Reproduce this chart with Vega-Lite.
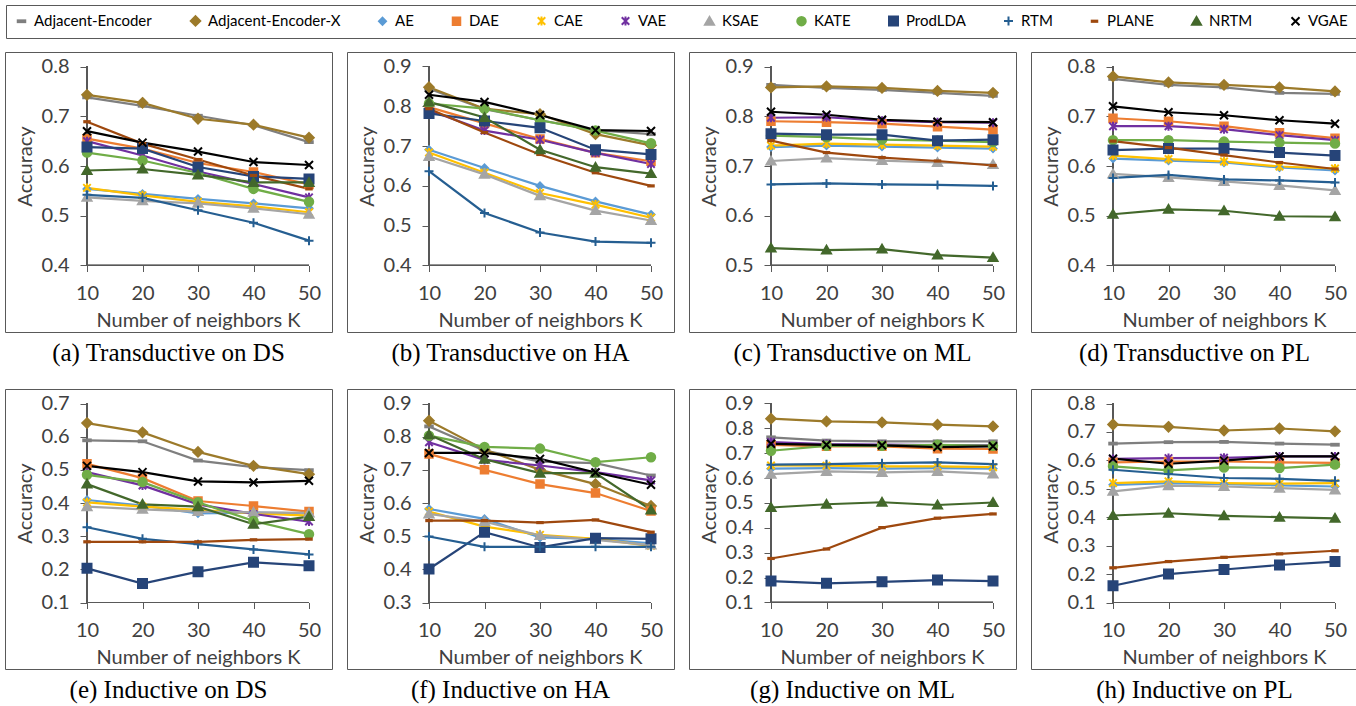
{
"$schema": "https://vega.github.io/schema/vega-lite/v6.json",
"padding": {"left": 4, "top": 4, "right": 2, "bottom": 0},
"background": "white",
"datasets": {
"a": [
{"m":"Adjacent-Encoder","k":10,"v":0.738},{"m":"Adjacent-Encoder","k":20,"v":0.721},{"m":"Adjacent-Encoder","k":30,"v":0.701},{"m":"Adjacent-Encoder","k":40,"v":0.682},{"m":"Adjacent-Encoder","k":50,"v":0.648},
{"m":"Adjacent-Encoder-X","k":10,"v":0.743},{"m":"Adjacent-Encoder-X","k":20,"v":0.727},{"m":"Adjacent-Encoder-X","k":30,"v":0.695},{"m":"Adjacent-Encoder-X","k":40,"v":0.683},{"m":"Adjacent-Encoder-X","k":50,"v":0.657},
{"m":"AE","k":10,"v":0.554},{"m":"AE","k":20,"v":0.544},{"m":"AE","k":30,"v":0.534},{"m":"AE","k":40,"v":0.525},{"m":"AE","k":50,"v":0.515},
{"m":"DAE","k":10,"v":0.655},{"m":"DAE","k":20,"v":0.635},{"m":"DAE","k":30,"v":0.606},{"m":"DAE","k":40,"v":0.588},{"m":"DAE","k":50,"v":0.563},
{"m":"CAE","k":10,"v":0.556},{"m":"CAE","k":20,"v":0.541},{"m":"CAE","k":30,"v":0.528},{"m":"CAE","k":40,"v":0.519},{"m":"CAE","k":50,"v":0.507},
{"m":"VAE","k":10,"v":0.650},{"m":"VAE","k":20,"v":0.621},{"m":"VAE","k":30,"v":0.589},{"m":"VAE","k":40,"v":0.564},{"m":"VAE","k":50,"v":0.537},
{"m":"KSAE","k":10,"v":0.537},{"m":"KSAE","k":20,"v":0.530},{"m":"KSAE","k":30,"v":0.525},{"m":"KSAE","k":40,"v":0.515},{"m":"KSAE","k":50,"v":0.503},
{"m":"KATE","k":10,"v":0.627},{"m":"KATE","k":20,"v":0.611},{"m":"KATE","k":30,"v":0.586},{"m":"KATE","k":40,"v":0.554},{"m":"KATE","k":50,"v":0.528},
{"m":"ProdLDA","k":10,"v":0.638},{"m":"ProdLDA","k":20,"v":0.635},{"m":"ProdLDA","k":30,"v":0.598},{"m":"ProdLDA","k":40,"v":0.579},{"m":"ProdLDA","k":50,"v":0.574},
{"m":"RTM","k":10,"v":0.542},{"m":"RTM","k":20,"v":0.536},{"m":"RTM","k":30,"v":0.511},{"m":"RTM","k":40,"v":0.486},{"m":"RTM","k":50,"v":0.450},
{"m":"PLANE","k":10,"v":0.689},{"m":"PLANE","k":20,"v":0.645},{"m":"PLANE","k":30,"v":0.613},{"m":"PLANE","k":40,"v":0.581},{"m":"PLANE","k":50,"v":0.554},
{"m":"NRTM","k":10,"v":0.591},{"m":"NRTM","k":20,"v":0.594},{"m":"NRTM","k":30,"v":0.582},{"m":"NRTM","k":40,"v":0.567},{"m":"NRTM","k":50,"v":0.567},
{"m":"VGAE","k":10,"v":0.670},{"m":"VGAE","k":20,"v":0.647},{"m":"VGAE","k":30,"v":0.629},{"m":"VGAE","k":40,"v":0.608},{"m":"VGAE","k":50,"v":0.602}
],
"b": [
{"m":"Adjacent-Encoder","k":10,"v":0.844},{"m":"Adjacent-Encoder","k":20,"v":0.793},{"m":"Adjacent-Encoder","k":30,"v":0.765},{"m":"Adjacent-Encoder","k":40,"v":0.740},{"m":"Adjacent-Encoder","k":50,"v":0.730},
{"m":"Adjacent-Encoder-X","k":10,"v":0.848},{"m":"Adjacent-Encoder-X","k":20,"v":0.794},{"m":"Adjacent-Encoder-X","k":30,"v":0.780},{"m":"Adjacent-Encoder-X","k":40,"v":0.730},{"m":"Adjacent-Encoder-X","k":50,"v":0.702},
{"m":"AE","k":10,"v":0.691},{"m":"AE","k":20,"v":0.645},{"m":"AE","k":30,"v":0.600},{"m":"AE","k":40,"v":0.561},{"m":"AE","k":50,"v":0.528},
{"m":"DAE","k":10,"v":0.798},{"m":"DAE","k":20,"v":0.757},{"m":"DAE","k":30,"v":0.718},{"m":"DAE","k":40,"v":0.683},{"m":"DAE","k":50,"v":0.662},
{"m":"CAE","k":10,"v":0.684},{"m":"CAE","k":20,"v":0.633},{"m":"CAE","k":30,"v":0.582},{"m":"CAE","k":40,"v":0.553},{"m":"CAE","k":50,"v":0.520},
{"m":"VAE","k":10,"v":0.790},{"m":"VAE","k":20,"v":0.739},{"m":"VAE","k":30,"v":0.716},{"m":"VAE","k":40,"v":0.683},{"m":"VAE","k":50,"v":0.655},
{"m":"KSAE","k":10,"v":0.674},{"m":"KSAE","k":20,"v":0.629},{"m":"KSAE","k":30,"v":0.575},{"m":"KSAE","k":40,"v":0.538},{"m":"KSAE","k":50,"v":0.513},
{"m":"KATE","k":10,"v":0.807},{"m":"KATE","k":20,"v":0.794},{"m":"KATE","k":30,"v":0.765},{"m":"KATE","k":40,"v":0.739},{"m":"KATE","k":50,"v":0.707},
{"m":"ProdLDA","k":10,"v":0.782},{"m":"ProdLDA","k":20,"v":0.763},{"m":"ProdLDA","k":30,"v":0.746},{"m":"ProdLDA","k":40,"v":0.691},{"m":"ProdLDA","k":50,"v":0.679},
{"m":"RTM","k":10,"v":0.637},{"m":"RTM","k":20,"v":0.532},{"m":"RTM","k":30,"v":0.483},{"m":"RTM","k":40,"v":0.460},{"m":"RTM","k":50,"v":0.457},
{"m":"PLANE","k":10,"v":0.794},{"m":"PLANE","k":20,"v":0.734},{"m":"PLANE","k":30,"v":0.679},{"m":"PLANE","k":40,"v":0.633},{"m":"PLANE","k":50,"v":0.600},
{"m":"NRTM","k":10,"v":0.811},{"m":"NRTM","k":20,"v":0.772},{"m":"NRTM","k":30,"v":0.691},{"m":"NRTM","k":40,"v":0.647},{"m":"NRTM","k":50,"v":0.631},
{"m":"VGAE","k":10,"v":0.829},{"m":"VGAE","k":20,"v":0.811},{"m":"VGAE","k":30,"v":0.778},{"m":"VGAE","k":40,"v":0.740},{"m":"VGAE","k":50,"v":0.738}
],
"c": [
{"m":"Adjacent-Encoder","k":10,"v":0.863},{"m":"Adjacent-Encoder","k":20,"v":0.857},{"m":"Adjacent-Encoder","k":30,"v":0.853},{"m":"Adjacent-Encoder","k":40,"v":0.847},{"m":"Adjacent-Encoder","k":50,"v":0.841},
{"m":"Adjacent-Encoder-X","k":10,"v":0.858},{"m":"Adjacent-Encoder-X","k":20,"v":0.860},{"m":"Adjacent-Encoder-X","k":30,"v":0.857},{"m":"Adjacent-Encoder-X","k":40,"v":0.851},{"m":"Adjacent-Encoder-X","k":50,"v":0.847},
{"m":"AE","k":10,"v":0.738},{"m":"AE","k":20,"v":0.741},{"m":"AE","k":30,"v":0.739},{"m":"AE","k":40,"v":0.737},{"m":"AE","k":50,"v":0.735},
{"m":"DAE","k":10,"v":0.790},{"m":"DAE","k":20,"v":0.788},{"m":"DAE","k":30,"v":0.785},{"m":"DAE","k":40,"v":0.779},{"m":"DAE","k":50,"v":0.773},
{"m":"CAE","k":10,"v":0.741},{"m":"CAE","k":20,"v":0.745},{"m":"CAE","k":30,"v":0.743},{"m":"CAE","k":40,"v":0.741},{"m":"CAE","k":50,"v":0.739},
{"m":"VAE","k":10,"v":0.797},{"m":"VAE","k":20,"v":0.798},{"m":"VAE","k":30,"v":0.791},{"m":"VAE","k":40,"v":0.788},{"m":"VAE","k":50,"v":0.787},
{"m":"KSAE","k":10,"v":0.710},{"m":"KSAE","k":20,"v":0.716},{"m":"KSAE","k":30,"v":0.711},{"m":"KSAE","k":40,"v":0.707},{"m":"KSAE","k":50,"v":0.703},
{"m":"KATE","k":10,"v":0.761},{"m":"KATE","k":20,"v":0.758},{"m":"KATE","k":30,"v":0.753},{"m":"KATE","k":40,"v":0.751},{"m":"KATE","k":50,"v":0.748},
{"m":"ProdLDA","k":10,"v":0.765},{"m":"ProdLDA","k":20,"v":0.763},{"m":"ProdLDA","k":30,"v":0.763},{"m":"ProdLDA","k":40,"v":0.751},{"m":"ProdLDA","k":50,"v":0.753},
{"m":"RTM","k":10,"v":0.663},{"m":"RTM","k":20,"v":0.665},{"m":"RTM","k":30,"v":0.663},{"m":"RTM","k":40,"v":0.662},{"m":"RTM","k":50,"v":0.660},
{"m":"PLANE","k":10,"v":0.751},{"m":"PLANE","k":20,"v":0.727},{"m":"PLANE","k":30,"v":0.717},{"m":"PLANE","k":40,"v":0.710},{"m":"PLANE","k":50,"v":0.701},
{"m":"NRTM","k":10,"v":0.535},{"m":"NRTM","k":20,"v":0.531},{"m":"NRTM","k":30,"v":0.533},{"m":"NRTM","k":40,"v":0.521},{"m":"NRTM","k":50,"v":0.516},
{"m":"VGAE","k":10,"v":0.809},{"m":"VGAE","k":20,"v":0.803},{"m":"VGAE","k":30,"v":0.793},{"m":"VGAE","k":40,"v":0.789},{"m":"VGAE","k":50,"v":0.788}
],
"d": [
{"m":"Adjacent-Encoder","k":10,"v":0.775},{"m":"Adjacent-Encoder","k":20,"v":0.763},{"m":"Adjacent-Encoder","k":30,"v":0.758},{"m":"Adjacent-Encoder","k":40,"v":0.747},{"m":"Adjacent-Encoder","k":50,"v":0.745},
{"m":"Adjacent-Encoder-X","k":10,"v":0.780},{"m":"Adjacent-Encoder-X","k":20,"v":0.768},{"m":"Adjacent-Encoder-X","k":30,"v":0.763},{"m":"Adjacent-Encoder-X","k":40,"v":0.758},{"m":"Adjacent-Encoder-X","k":50,"v":0.750},
{"m":"AE","k":10,"v":0.615},{"m":"AE","k":20,"v":0.611},{"m":"AE","k":30,"v":0.607},{"m":"AE","k":40,"v":0.597},{"m":"AE","k":50,"v":0.591},
{"m":"DAE","k":10,"v":0.696},{"m":"DAE","k":20,"v":0.690},{"m":"DAE","k":30,"v":0.680},{"m":"DAE","k":40,"v":0.667},{"m":"DAE","k":50,"v":0.656},
{"m":"CAE","k":10,"v":0.621},{"m":"CAE","k":20,"v":0.614},{"m":"CAE","k":30,"v":0.609},{"m":"CAE","k":40,"v":0.599},{"m":"CAE","k":50,"v":0.595},
{"m":"VAE","k":10,"v":0.680},{"m":"VAE","k":20,"v":0.680},{"m":"VAE","k":30,"v":0.674},{"m":"VAE","k":40,"v":0.662},{"m":"VAE","k":50,"v":0.652},
{"m":"KSAE","k":10,"v":0.584},{"m":"KSAE","k":20,"v":0.577},{"m":"KSAE","k":30,"v":0.569},{"m":"KSAE","k":40,"v":0.561},{"m":"KSAE","k":50,"v":0.551},
{"m":"KATE","k":10,"v":0.652},{"m":"KATE","k":20,"v":0.652},{"m":"KATE","k":30,"v":0.649},{"m":"KATE","k":40,"v":0.647},{"m":"KATE","k":50,"v":0.645},
{"m":"ProdLDA","k":10,"v":0.632},{"m":"ProdLDA","k":20,"v":0.635},{"m":"ProdLDA","k":30,"v":0.635},{"m":"ProdLDA","k":40,"v":0.627},{"m":"ProdLDA","k":50,"v":0.621},
{"m":"RTM","k":10,"v":0.576},{"m":"RTM","k":20,"v":0.582},{"m":"RTM","k":30,"v":0.573},{"m":"RTM","k":40,"v":0.571},{"m":"RTM","k":50,"v":0.567},
{"m":"PLANE","k":10,"v":0.650},{"m":"PLANE","k":20,"v":0.637},{"m":"PLANE","k":30,"v":0.622},{"m":"PLANE","k":40,"v":0.607},{"m":"PLANE","k":50,"v":0.594},
{"m":"NRTM","k":10,"v":0.503},{"m":"NRTM","k":20,"v":0.513},{"m":"NRTM","k":30,"v":0.510},{"m":"NRTM","k":40,"v":0.499},{"m":"NRTM","k":50,"v":0.498},
{"m":"VGAE","k":10,"v":0.720},{"m":"VGAE","k":20,"v":0.708},{"m":"VGAE","k":30,"v":0.702},{"m":"VGAE","k":40,"v":0.692},{"m":"VGAE","k":50,"v":0.685}
],
"e": [
{"m":"Adjacent-Encoder","k":10,"v":0.589},{"m":"Adjacent-Encoder","k":20,"v":0.586},{"m":"Adjacent-Encoder","k":30,"v":0.528},{"m":"Adjacent-Encoder","k":40,"v":0.508},{"m":"Adjacent-Encoder","k":50,"v":0.499},
{"m":"Adjacent-Encoder-X","k":10,"v":0.641},{"m":"Adjacent-Encoder-X","k":20,"v":0.613},{"m":"Adjacent-Encoder-X","k":30,"v":0.554},{"m":"Adjacent-Encoder-X","k":40,"v":0.512},{"m":"Adjacent-Encoder-X","k":50,"v":0.487},
{"m":"AE","k":10,"v":0.409},{"m":"AE","k":20,"v":0.392},{"m":"AE","k":30,"v":0.369},{"m":"AE","k":40,"v":0.371},{"m":"AE","k":50,"v":0.369},
{"m":"DAE","k":10,"v":0.518},{"m":"DAE","k":20,"v":0.475},{"m":"DAE","k":30,"v":0.406},{"m":"DAE","k":40,"v":0.391},{"m":"DAE","k":50,"v":0.374},
{"m":"CAE","k":10,"v":0.402},{"m":"CAE","k":20,"v":0.389},{"m":"CAE","k":30,"v":0.379},{"m":"CAE","k":40,"v":0.369},{"m":"CAE","k":50,"v":0.362},
{"m":"VAE","k":10,"v":0.493},{"m":"VAE","k":20,"v":0.453},{"m":"VAE","k":30,"v":0.396},{"m":"VAE","k":40,"v":0.367},{"m":"VAE","k":50,"v":0.344},
{"m":"KSAE","k":10,"v":0.389},{"m":"KSAE","k":20,"v":0.381},{"m":"KSAE","k":30,"v":0.374},{"m":"KSAE","k":40,"v":0.372},{"m":"KSAE","k":50,"v":0.370},
{"m":"KATE","k":10,"v":0.485},{"m":"KATE","k":20,"v":0.463},{"m":"KATE","k":30,"v":0.402},{"m":"KATE","k":40,"v":0.346},{"m":"KATE","k":50,"v":0.306},
{"m":"ProdLDA","k":10,"v":0.203},{"m":"ProdLDA","k":20,"v":0.157},{"m":"ProdLDA","k":30,"v":0.193},{"m":"ProdLDA","k":40,"v":0.221},{"m":"ProdLDA","k":50,"v":0.211},
{"m":"RTM","k":10,"v":0.327},{"m":"RTM","k":20,"v":0.292},{"m":"RTM","k":30,"v":0.276},{"m":"RTM","k":40,"v":0.260},{"m":"RTM","k":50,"v":0.245},
{"m":"PLANE","k":10,"v":0.283},{"m":"PLANE","k":20,"v":0.283},{"m":"PLANE","k":30,"v":0.283},{"m":"PLANE","k":40,"v":0.289},{"m":"PLANE","k":50,"v":0.291},
{"m":"NRTM","k":10,"v":0.457},{"m":"NRTM","k":20,"v":0.396},{"m":"NRTM","k":30,"v":0.389},{"m":"NRTM","k":40,"v":0.336},{"m":"NRTM","k":50,"v":0.359},
{"m":"VGAE","k":10,"v":0.512},{"m":"VGAE","k":20,"v":0.493},{"m":"VGAE","k":30,"v":0.465},{"m":"VGAE","k":40,"v":0.462},{"m":"VGAE","k":50,"v":0.467}
],
"f": [
{"m":"Adjacent-Encoder","k":10,"v":0.831},{"m":"Adjacent-Encoder","k":20,"v":0.758},{"m":"Adjacent-Encoder","k":30,"v":0.725},{"m":"Adjacent-Encoder","k":40,"v":0.720},{"m":"Adjacent-Encoder","k":50,"v":0.683},
{"m":"Adjacent-Encoder-X","k":10,"v":0.848},{"m":"Adjacent-Encoder-X","k":20,"v":0.761},{"m":"Adjacent-Encoder-X","k":30,"v":0.700},{"m":"Adjacent-Encoder-X","k":40,"v":0.657},{"m":"Adjacent-Encoder-X","k":50,"v":0.591},
{"m":"AE","k":10,"v":0.582},{"m":"AE","k":20,"v":0.552},{"m":"AE","k":30,"v":0.496},{"m":"AE","k":40,"v":0.492},{"m":"AE","k":50,"v":0.478},
{"m":"DAE","k":10,"v":0.748},{"m":"DAE","k":20,"v":0.700},{"m":"DAE","k":30,"v":0.657},{"m":"DAE","k":40,"v":0.630},{"m":"DAE","k":50,"v":0.576},
{"m":"CAE","k":10,"v":0.574},{"m":"CAE","k":20,"v":0.529},{"m":"CAE","k":30,"v":0.504},{"m":"CAE","k":40,"v":0.492},{"m":"CAE","k":50,"v":0.471},
{"m":"VAE","k":10,"v":0.783},{"m":"VAE","k":20,"v":0.730},{"m":"VAE","k":30,"v":0.713},{"m":"VAE","k":40,"v":0.693},{"m":"VAE","k":50,"v":0.668},
{"m":"KSAE","k":10,"v":0.567},{"m":"KSAE","k":20,"v":0.544},{"m":"KSAE","k":30,"v":0.502},{"m":"KSAE","k":40,"v":0.489},{"m":"KSAE","k":50,"v":0.473},
{"m":"KATE","k":10,"v":0.803},{"m":"KATE","k":20,"v":0.769},{"m":"KATE","k":30,"v":0.764},{"m":"KATE","k":40,"v":0.723},{"m":"KATE","k":50,"v":0.738},
{"m":"ProdLDA","k":10,"v":0.401},{"m":"ProdLDA","k":20,"v":0.512},{"m":"ProdLDA","k":30,"v":0.466},{"m":"ProdLDA","k":40,"v":0.494},{"m":"ProdLDA","k":50,"v":0.492},
{"m":"RTM","k":10,"v":0.499},{"m":"RTM","k":20,"v":0.468},{"m":"RTM","k":30,"v":0.468},{"m":"RTM","k":40,"v":0.468},{"m":"RTM","k":50,"v":0.468},
{"m":"PLANE","k":10,"v":0.547},{"m":"PLANE","k":20,"v":0.547},{"m":"PLANE","k":30,"v":0.541},{"m":"PLANE","k":40,"v":0.549},{"m":"PLANE","k":50,"v":0.512},
{"m":"NRTM","k":10,"v":0.806},{"m":"NRTM","k":20,"v":0.732},{"m":"NRTM","k":30,"v":0.690},{"m":"NRTM","k":40,"v":0.690},{"m":"NRTM","k":50,"v":0.579},
{"m":"VGAE","k":10,"v":0.751},{"m":"VGAE","k":20,"v":0.751},{"m":"VGAE","k":30,"v":0.733},{"m":"VGAE","k":40,"v":0.692},{"m":"VGAE","k":50,"v":0.655}
],
"g": [
{"m":"Adjacent-Encoder","k":10,"v":0.764},{"m":"Adjacent-Encoder","k":20,"v":0.751},{"m":"Adjacent-Encoder","k":30,"v":0.748},{"m":"Adjacent-Encoder","k":40,"v":0.748},{"m":"Adjacent-Encoder","k":50,"v":0.748},
{"m":"Adjacent-Encoder-X","k":10,"v":0.839},{"m":"Adjacent-Encoder-X","k":20,"v":0.828},{"m":"Adjacent-Encoder-X","k":30,"v":0.824},{"m":"Adjacent-Encoder-X","k":40,"v":0.815},{"m":"Adjacent-Encoder-X","k":50,"v":0.808},
{"m":"AE","k":10,"v":0.638},{"m":"AE","k":20,"v":0.640},{"m":"AE","k":30,"v":0.638},{"m":"AE","k":40,"v":0.640},{"m":"AE","k":50,"v":0.638},
{"m":"DAE","k":10,"v":0.734},{"m":"DAE","k":20,"v":0.728},{"m":"DAE","k":30,"v":0.728},{"m":"DAE","k":40,"v":0.718},{"m":"DAE","k":50,"v":0.717},
{"m":"CAE","k":10,"v":0.651},{"m":"CAE","k":20,"v":0.650},{"m":"CAE","k":30,"v":0.647},{"m":"CAE","k":40,"v":0.647},{"m":"CAE","k":50,"v":0.644},
{"m":"VAE","k":10,"v":0.745},{"m":"VAE","k":20,"v":0.737},{"m":"VAE","k":30,"v":0.735},{"m":"VAE","k":40,"v":0.733},{"m":"VAE","k":50,"v":0.732},
{"m":"KSAE","k":10,"v":0.616},{"m":"KSAE","k":20,"v":0.627},{"m":"KSAE","k":30,"v":0.623},{"m":"KSAE","k":40,"v":0.627},{"m":"KSAE","k":50,"v":0.617},
{"m":"KATE","k":10,"v":0.710},{"m":"KATE","k":20,"v":0.730},{"m":"KATE","k":30,"v":0.730},{"m":"KATE","k":40,"v":0.734},{"m":"KATE","k":50,"v":0.730},
{"m":"ProdLDA","k":10,"v":0.186},{"m":"ProdLDA","k":20,"v":0.177},{"m":"ProdLDA","k":30,"v":0.183},{"m":"ProdLDA","k":40,"v":0.190},{"m":"ProdLDA","k":50,"v":0.186},
{"m":"RTM","k":10,"v":0.654},{"m":"RTM","k":20,"v":0.656},{"m":"RTM","k":30,"v":0.660},{"m":"RTM","k":40,"v":0.663},{"m":"RTM","k":50,"v":0.656},
{"m":"PLANE","k":10,"v":0.277},{"m":"PLANE","k":20,"v":0.315},{"m":"PLANE","k":30,"v":0.401},{"m":"PLANE","k":40,"v":0.439},{"m":"PLANE","k":50,"v":0.456},
{"m":"NRTM","k":10,"v":0.482},{"m":"NRTM","k":20,"v":0.495},{"m":"NRTM","k":30,"v":0.503},{"m":"NRTM","k":40,"v":0.492},{"m":"NRTM","k":50,"v":0.502},
{"m":"VGAE","k":10,"v":0.738},{"m":"VGAE","k":20,"v":0.734},{"m":"VGAE","k":30,"v":0.732},{"m":"VGAE","k":40,"v":0.725},{"m":"VGAE","k":50,"v":0.728}
],
"h": [
{"m":"Adjacent-Encoder","k":10,"v":0.659},{"m":"Adjacent-Encoder","k":20,"v":0.664},{"m":"Adjacent-Encoder","k":30,"v":0.665},{"m":"Adjacent-Encoder","k":40,"v":0.659},{"m":"Adjacent-Encoder","k":50,"v":0.655},
{"m":"Adjacent-Encoder-X","k":10,"v":0.726},{"m":"Adjacent-Encoder-X","k":20,"v":0.718},{"m":"Adjacent-Encoder-X","k":30,"v":0.705},{"m":"Adjacent-Encoder-X","k":40,"v":0.712},{"m":"Adjacent-Encoder-X","k":50,"v":0.702},
{"m":"AE","k":10,"v":0.514},{"m":"AE","k":20,"v":0.520},{"m":"AE","k":30,"v":0.516},{"m":"AE","k":40,"v":0.512},{"m":"AE","k":50,"v":0.508},
{"m":"DAE","k":10,"v":0.593},{"m":"DAE","k":20,"v":0.596},{"m":"DAE","k":30,"v":0.596},{"m":"DAE","k":40,"v":0.593},{"m":"DAE","k":50,"v":0.591},
{"m":"CAE","k":10,"v":0.520},{"m":"CAE","k":20,"v":0.526},{"m":"CAE","k":30,"v":0.520},{"m":"CAE","k":40,"v":0.518},{"m":"CAE","k":50,"v":0.520},
{"m":"VAE","k":10,"v":0.605},{"m":"VAE","k":20,"v":0.608},{"m":"VAE","k":30,"v":0.609},{"m":"VAE","k":40,"v":0.614},{"m":"VAE","k":50,"v":0.614},
{"m":"KSAE","k":10,"v":0.491},{"m":"KSAE","k":20,"v":0.511},{"m":"KSAE","k":30,"v":0.508},{"m":"KSAE","k":40,"v":0.502},{"m":"KSAE","k":50,"v":0.496},
{"m":"KATE","k":10,"v":0.579},{"m":"KATE","k":20,"v":0.565},{"m":"KATE","k":30,"v":0.575},{"m":"KATE","k":40,"v":0.573},{"m":"KATE","k":50,"v":0.585},
{"m":"ProdLDA","k":10,"v":0.159},{"m":"ProdLDA","k":20,"v":0.200},{"m":"ProdLDA","k":30,"v":0.216},{"m":"ProdLDA","k":40,"v":0.232},{"m":"ProdLDA","k":50,"v":0.244},
{"m":"RTM","k":10,"v":0.567},{"m":"RTM","k":20,"v":0.552},{"m":"RTM","k":30,"v":0.538},{"m":"RTM","k":40,"v":0.535},{"m":"RTM","k":50,"v":0.528},
{"m":"PLANE","k":10,"v":0.222},{"m":"PLANE","k":20,"v":0.244},{"m":"PLANE","k":30,"v":0.259},{"m":"PLANE","k":40,"v":0.271},{"m":"PLANE","k":50,"v":0.282},
{"m":"NRTM","k":10,"v":0.406},{"m":"NRTM","k":20,"v":0.414},{"m":"NRTM","k":30,"v":0.405},{"m":"NRTM","k":40,"v":0.400},{"m":"NRTM","k":50,"v":0.396},
{"m":"VGAE","k":10,"v":0.606},{"m":"VGAE","k":20,"v":0.588},{"m":"VGAE","k":30,"v":0.599},{"m":"VGAE","k":40,"v":0.614},{"m":"VGAE","k":50,"v":0.614}
]
},
"columns": 4,
"spacing": {"row": 21, "column": 13},
"resolve": {"scale": {"x": "independent", "y": "independent", "color": "shared", "stroke": "shared", "shape": "shared"}, "legend": {"color": "shared", "stroke": "shared", "shape": "shared"}},
"concat": [
{"width": 327, "height": 280, "data": {"name": "a"}, "title": {"text": "(a) Transductive on DS"},
 "layer": [
  {"mark": {"type": "rule", "color": "#595959", "strokeWidth": 1}, "encoding": {"x": {"datum": 10, "type": "quantitative"}, "y": {"datum": 0.4, "type": "quantitative"}, "y2": {"datum": 0.8}}},
  {"mark": {"type": "rule", "color": "#595959", "strokeWidth": 1}, "encoding": {"y": {"datum": 0.4, "type": "quantitative"}, "x": {"datum": 10, "type": "quantitative"}, "x2": {"datum": 50}}},
  {"mark": {"type": "line", "strokeWidth": 2.2}, "encoding": {
    "x": {"field": "k", "type": "quantitative", "scale": {"domain": [-4.775, 54.144], "nice": false, "zero": false}, "axis": {"values": [10,20,30,40,50], "tickCount": 12, "labelOverlap": false, "title": "Number of neighbors K"}},
    "y": {"field": "v", "type": "quantitative", "scale": {"domain": [0.26633, 0.82915], "nice": false, "zero": false}, "axis": {"values": [0.4,0.5,0.6,0.7,0.8], "tickCount": 12, "format": ".1f", "labelOverlap": false, "title": "Accuracy"}},
    "color": {"field": "m", "type": "nominal", "scale": {"domain": ["Adjacent-Encoder","Adjacent-Encoder-X","AE","DAE","CAE","VAE","KSAE","KATE","ProdLDA","RTM","PLANE","NRTM","VGAE"], "range": ["#7F7F7F","#9C7A2A","#5B9BD5","#ED7D31","#FFC000","#7030A0","#A5A5A5","#70AD47","#264478","#255E91","#9E480E","#43682B","#000000"]}, "legend": {"title": null}}}},
  {"mark": {"type": "point", "filled": true, "size": 100, "strokeWidth": 2, "opacity": 1}, "encoding": {
    "x": {"field": "k", "type": "quantitative"}, "y": {"field": "v", "type": "quantitative"},
    "color": {"field": "m", "type": "nominal", "scale": {"domain": ["Adjacent-Encoder","Adjacent-Encoder-X","AE","DAE","CAE","VAE","KSAE","KATE","ProdLDA","RTM","PLANE","NRTM","VGAE"], "range": ["#7F7F7F","#9C7A2A","#5B9BD5","#ED7D31","#FFC000","#7030A0","#A5A5A5","#70AD47","#264478","#255E91","#9E480E","#43682B","#000000"]}, "legend": {"title": null}},
    "stroke": {"field": "m", "type": "nominal", "scale": {"domain": ["Adjacent-Encoder","Adjacent-Encoder-X","AE","DAE","CAE","VAE","KSAE","KATE","ProdLDA","RTM","PLANE","NRTM","VGAE"], "range": ["#7F7F7F","#9C7A2A","#5B9BD5","#ED7D31","#FFC000","#7030A0","#A5A5A5","#70AD47","#264478","#255E91","#9E480E","#43682B","#000000"]}, "legend": {"title": null}},
    "shape": {"field": "m", "type": "nominal", "scale": {"domain": ["Adjacent-Encoder","Adjacent-Encoder-X","AE","DAE","CAE","VAE","KSAE","KATE","ProdLDA","RTM","PLANE","NRTM","VGAE"], "range": ["M-0.75,-0.18H0.75V0.18H-0.75Z","M0,-0.95L0.95,0L0,0.95L-0.95,0Z","M0,-0.7L0.7,0L0,0.7L-0.7,0Z","M-0.75,-0.75H0.75V0.75H-0.75Z","M-0.75,-0.75L0.75,0.75M0.75,-0.75L-0.75,0.75M0,-0.9V0.9","M-0.75,-0.75L0.75,0.75M0.75,-0.75L-0.75,0.75M0,-0.9V0.9","M0,-0.85L0.9,0.7H-0.9Z","M-0.85,0A0.85,0.85 0 1,0 0.85,0A0.85,0.85 0 1,0 -0.85,0Z","M-0.9,-0.9H0.9V0.9H-0.9Z","M-0.9,0H0.9M0,-0.9V0.9","M-0.55,-0.12H0.55V0.12H-0.55Z","M0,-0.85L0.9,0.7H-0.9Z","M-0.8,-0.8L0.8,0.8M0.8,-0.8L-0.8,0.8"]}, "legend": {"title": null}}}}
 ]},
{"width": 327, "height": 280, "data": {"name": "b"}, "title": {"text": "(b) Transductive on HA"},
 "layer": [
  {"mark": {"type": "rule", "color": "#595959", "strokeWidth": 1}, "encoding": {"x": {"datum": 10, "type": "quantitative"}, "y": {"datum": 0.4, "type": "quantitative"}, "y2": {"datum": 0.9}}},
  {"mark": {"type": "rule", "color": "#595959", "strokeWidth": 1}, "encoding": {"y": {"datum": 0.4, "type": "quantitative"}, "x": {"datum": 10, "type": "quantitative"}, "x2": {"datum": 50}}},
  {"mark": {"type": "line", "strokeWidth": 2.2}, "encoding": {
    "x": {"field": "k", "type": "quantitative", "scale": {"domain": [-4.775, 54.144], "nice": false, "zero": false}, "axis": {"values": [10,20,30,40,50], "tickCount": 12, "labelOverlap": false, "title": "Number of neighbors K"}},
    "y": {"field": "v", "type": "quantitative", "scale": {"domain": [0.23291, 0.93643], "nice": false, "zero": false}, "axis": {"values": [0.4,0.5,0.6,0.7,0.8,0.9], "tickCount": 12, "format": ".1f", "labelOverlap": false, "title": "Accuracy"}},
    "color": {"field": "m", "type": "nominal", "scale": {"domain": ["Adjacent-Encoder","Adjacent-Encoder-X","AE","DAE","CAE","VAE","KSAE","KATE","ProdLDA","RTM","PLANE","NRTM","VGAE"], "range": ["#7F7F7F","#9C7A2A","#5B9BD5","#ED7D31","#FFC000","#7030A0","#A5A5A5","#70AD47","#264478","#255E91","#9E480E","#43682B","#000000"]}, "legend": {"title": null}}}},
  {"mark": {"type": "point", "filled": true, "size": 100, "strokeWidth": 2, "opacity": 1}, "encoding": {
    "x": {"field": "k", "type": "quantitative"}, "y": {"field": "v", "type": "quantitative"},
    "color": {"field": "m", "type": "nominal", "scale": {"domain": ["Adjacent-Encoder","Adjacent-Encoder-X","AE","DAE","CAE","VAE","KSAE","KATE","ProdLDA","RTM","PLANE","NRTM","VGAE"], "range": ["#7F7F7F","#9C7A2A","#5B9BD5","#ED7D31","#FFC000","#7030A0","#A5A5A5","#70AD47","#264478","#255E91","#9E480E","#43682B","#000000"]}, "legend": {"title": null}},
    "stroke": {"field": "m", "type": "nominal", "scale": {"domain": ["Adjacent-Encoder","Adjacent-Encoder-X","AE","DAE","CAE","VAE","KSAE","KATE","ProdLDA","RTM","PLANE","NRTM","VGAE"], "range": ["#7F7F7F","#9C7A2A","#5B9BD5","#ED7D31","#FFC000","#7030A0","#A5A5A5","#70AD47","#264478","#255E91","#9E480E","#43682B","#000000"]}, "legend": {"title": null}},
    "shape": {"field": "m", "type": "nominal", "scale": {"domain": ["Adjacent-Encoder","Adjacent-Encoder-X","AE","DAE","CAE","VAE","KSAE","KATE","ProdLDA","RTM","PLANE","NRTM","VGAE"], "range": ["M-0.75,-0.18H0.75V0.18H-0.75Z","M0,-0.95L0.95,0L0,0.95L-0.95,0Z","M0,-0.7L0.7,0L0,0.7L-0.7,0Z","M-0.75,-0.75H0.75V0.75H-0.75Z","M-0.75,-0.75L0.75,0.75M0.75,-0.75L-0.75,0.75M0,-0.9V0.9","M-0.75,-0.75L0.75,0.75M0.75,-0.75L-0.75,0.75M0,-0.9V0.9","M0,-0.85L0.9,0.7H-0.9Z","M-0.85,0A0.85,0.85 0 1,0 0.85,0A0.85,0.85 0 1,0 -0.85,0Z","M-0.9,-0.9H0.9V0.9H-0.9Z","M-0.9,0H0.9M0,-0.9V0.9","M-0.55,-0.12H0.55V0.12H-0.55Z","M0,-0.85L0.9,0.7H-0.9Z","M-0.8,-0.8L0.8,0.8M0.8,-0.8L-0.8,0.8"]}, "legend": {"title": null}}}}
 ]},
{"width": 327, "height": 280, "data": {"name": "c"}, "title": {"text": "(c) Transductive on ML"},
 "layer": [
  {"mark": {"type": "rule", "color": "#595959", "strokeWidth": 1}, "encoding": {"x": {"datum": 10, "type": "quantitative"}, "y": {"datum": 0.5, "type": "quantitative"}, "y2": {"datum": 0.9}}},
  {"mark": {"type": "rule", "color": "#595959", "strokeWidth": 1}, "encoding": {"y": {"datum": 0.5, "type": "quantitative"}, "x": {"datum": 10, "type": "quantitative"}, "x2": {"datum": 50}}},
  {"mark": {"type": "line", "strokeWidth": 2.2}, "encoding": {
    "x": {"field": "k", "type": "quantitative", "scale": {"domain": [-4.775, 54.144], "nice": false, "zero": false}, "axis": {"values": [10,20,30,40,50], "tickCount": 12, "labelOverlap": false, "title": "Number of neighbors K"}},
    "y": {"field": "v", "type": "quantitative", "scale": {"domain": [0.36633, 0.92915], "nice": false, "zero": false}, "axis": {"values": [0.5,0.6,0.7,0.8,0.9], "tickCount": 12, "format": ".1f", "labelOverlap": false, "title": "Accuracy"}},
    "color": {"field": "m", "type": "nominal", "scale": {"domain": ["Adjacent-Encoder","Adjacent-Encoder-X","AE","DAE","CAE","VAE","KSAE","KATE","ProdLDA","RTM","PLANE","NRTM","VGAE"], "range": ["#7F7F7F","#9C7A2A","#5B9BD5","#ED7D31","#FFC000","#7030A0","#A5A5A5","#70AD47","#264478","#255E91","#9E480E","#43682B","#000000"]}, "legend": {"title": null}}}},
  {"mark": {"type": "point", "filled": true, "size": 100, "strokeWidth": 2, "opacity": 1}, "encoding": {
    "x": {"field": "k", "type": "quantitative"}, "y": {"field": "v", "type": "quantitative"},
    "color": {"field": "m", "type": "nominal", "scale": {"domain": ["Adjacent-Encoder","Adjacent-Encoder-X","AE","DAE","CAE","VAE","KSAE","KATE","ProdLDA","RTM","PLANE","NRTM","VGAE"], "range": ["#7F7F7F","#9C7A2A","#5B9BD5","#ED7D31","#FFC000","#7030A0","#A5A5A5","#70AD47","#264478","#255E91","#9E480E","#43682B","#000000"]}, "legend": {"title": null}},
    "stroke": {"field": "m", "type": "nominal", "scale": {"domain": ["Adjacent-Encoder","Adjacent-Encoder-X","AE","DAE","CAE","VAE","KSAE","KATE","ProdLDA","RTM","PLANE","NRTM","VGAE"], "range": ["#7F7F7F","#9C7A2A","#5B9BD5","#ED7D31","#FFC000","#7030A0","#A5A5A5","#70AD47","#264478","#255E91","#9E480E","#43682B","#000000"]}, "legend": {"title": null}},
    "shape": {"field": "m", "type": "nominal", "scale": {"domain": ["Adjacent-Encoder","Adjacent-Encoder-X","AE","DAE","CAE","VAE","KSAE","KATE","ProdLDA","RTM","PLANE","NRTM","VGAE"], "range": ["M-0.75,-0.18H0.75V0.18H-0.75Z","M0,-0.95L0.95,0L0,0.95L-0.95,0Z","M0,-0.7L0.7,0L0,0.7L-0.7,0Z","M-0.75,-0.75H0.75V0.75H-0.75Z","M-0.75,-0.75L0.75,0.75M0.75,-0.75L-0.75,0.75M0,-0.9V0.9","M-0.75,-0.75L0.75,0.75M0.75,-0.75L-0.75,0.75M0,-0.9V0.9","M0,-0.85L0.9,0.7H-0.9Z","M-0.85,0A0.85,0.85 0 1,0 0.85,0A0.85,0.85 0 1,0 -0.85,0Z","M-0.9,-0.9H0.9V0.9H-0.9Z","M-0.9,0H0.9M0,-0.9V0.9","M-0.55,-0.12H0.55V0.12H-0.55Z","M0,-0.85L0.9,0.7H-0.9Z","M-0.8,-0.8L0.8,0.8M0.8,-0.8L-0.8,0.8"]}, "legend": {"title": null}}}}
 ]},
{"width": 327, "height": 280, "data": {"name": "d"}, "title": {"text": "(d) Transductive on PL"},
 "layer": [
  {"mark": {"type": "rule", "color": "#595959", "strokeWidth": 1}, "encoding": {"x": {"datum": 10, "type": "quantitative"}, "y": {"datum": 0.4, "type": "quantitative"}, "y2": {"datum": 0.8}}},
  {"mark": {"type": "rule", "color": "#595959", "strokeWidth": 1}, "encoding": {"y": {"datum": 0.4, "type": "quantitative"}, "x": {"datum": 10, "type": "quantitative"}, "x2": {"datum": 50}}},
  {"mark": {"type": "line", "strokeWidth": 2.2}, "encoding": {
    "x": {"field": "k", "type": "quantitative", "scale": {"domain": [-4.775, 54.144], "nice": false, "zero": false}, "axis": {"values": [10,20,30,40,50], "tickCount": 12, "labelOverlap": false, "title": "Number of neighbors K"}},
    "y": {"field": "v", "type": "quantitative", "scale": {"domain": [0.26633, 0.82915], "nice": false, "zero": false}, "axis": {"values": [0.4,0.5,0.6,0.7,0.8], "tickCount": 12, "format": ".1f", "labelOverlap": false, "title": "Accuracy"}},
    "color": {"field": "m", "type": "nominal", "scale": {"domain": ["Adjacent-Encoder","Adjacent-Encoder-X","AE","DAE","CAE","VAE","KSAE","KATE","ProdLDA","RTM","PLANE","NRTM","VGAE"], "range": ["#7F7F7F","#9C7A2A","#5B9BD5","#ED7D31","#FFC000","#7030A0","#A5A5A5","#70AD47","#264478","#255E91","#9E480E","#43682B","#000000"]}, "legend": {"title": null}}}},
  {"mark": {"type": "point", "filled": true, "size": 100, "strokeWidth": 2, "opacity": 1}, "encoding": {
    "x": {"field": "k", "type": "quantitative"}, "y": {"field": "v", "type": "quantitative"},
    "color": {"field": "m", "type": "nominal", "scale": {"domain": ["Adjacent-Encoder","Adjacent-Encoder-X","AE","DAE","CAE","VAE","KSAE","KATE","ProdLDA","RTM","PLANE","NRTM","VGAE"], "range": ["#7F7F7F","#9C7A2A","#5B9BD5","#ED7D31","#FFC000","#7030A0","#A5A5A5","#70AD47","#264478","#255E91","#9E480E","#43682B","#000000"]}, "legend": {"title": null}},
    "stroke": {"field": "m", "type": "nominal", "scale": {"domain": ["Adjacent-Encoder","Adjacent-Encoder-X","AE","DAE","CAE","VAE","KSAE","KATE","ProdLDA","RTM","PLANE","NRTM","VGAE"], "range": ["#7F7F7F","#9C7A2A","#5B9BD5","#ED7D31","#FFC000","#7030A0","#A5A5A5","#70AD47","#264478","#255E91","#9E480E","#43682B","#000000"]}, "legend": {"title": null}},
    "shape": {"field": "m", "type": "nominal", "scale": {"domain": ["Adjacent-Encoder","Adjacent-Encoder-X","AE","DAE","CAE","VAE","KSAE","KATE","ProdLDA","RTM","PLANE","NRTM","VGAE"], "range": ["M-0.75,-0.18H0.75V0.18H-0.75Z","M0,-0.95L0.95,0L0,0.95L-0.95,0Z","M0,-0.7L0.7,0L0,0.7L-0.7,0Z","M-0.75,-0.75H0.75V0.75H-0.75Z","M-0.75,-0.75L0.75,0.75M0.75,-0.75L-0.75,0.75M0,-0.9V0.9","M-0.75,-0.75L0.75,0.75M0.75,-0.75L-0.75,0.75M0,-0.9V0.9","M0,-0.85L0.9,0.7H-0.9Z","M-0.85,0A0.85,0.85 0 1,0 0.85,0A0.85,0.85 0 1,0 -0.85,0Z","M-0.9,-0.9H0.9V0.9H-0.9Z","M-0.9,0H0.9M0,-0.9V0.9","M-0.55,-0.12H0.55V0.12H-0.55Z","M0,-0.85L0.9,0.7H-0.9Z","M-0.8,-0.8L0.8,0.8M0.8,-0.8L-0.8,0.8"]}, "legend": {"title": null}}}}
 ]},
{"width": 327, "height": 280, "data": {"name": "e"}, "title": {"text": "(e) Inductive on DS"},
 "layer": [
  {"mark": {"type": "rule", "color": "#595959", "strokeWidth": 1}, "encoding": {"x": {"datum": 10, "type": "quantitative"}, "y": {"datum": 0.1, "type": "quantitative"}, "y2": {"datum": 0.7}}},
  {"mark": {"type": "rule", "color": "#595959", "strokeWidth": 1}, "encoding": {"y": {"datum": 0.1, "type": "quantitative"}, "x": {"datum": 10, "type": "quantitative"}, "x2": {"datum": 50}}},
  {"mark": {"type": "line", "strokeWidth": 2.2}, "encoding": {
    "x": {"field": "k", "type": "quantitative", "scale": {"domain": [-4.775, 54.144], "nice": false, "zero": false}, "axis": {"values": [10,20,30,40,50], "tickCount": 12, "labelOverlap": false, "title": "Number of neighbors K"}},
    "y": {"field": "v", "type": "quantitative", "scale": {"domain": [-0.1005, 0.74372], "nice": false, "zero": false}, "axis": {"values": [0.1,0.2,0.3,0.4,0.5,0.6,0.7], "tickCount": 12, "format": ".1f", "labelOverlap": false, "title": "Accuracy"}},
    "color": {"field": "m", "type": "nominal", "scale": {"domain": ["Adjacent-Encoder","Adjacent-Encoder-X","AE","DAE","CAE","VAE","KSAE","KATE","ProdLDA","RTM","PLANE","NRTM","VGAE"], "range": ["#7F7F7F","#9C7A2A","#5B9BD5","#ED7D31","#FFC000","#7030A0","#A5A5A5","#70AD47","#264478","#255E91","#9E480E","#43682B","#000000"]}, "legend": {"title": null}}}},
  {"mark": {"type": "point", "filled": true, "size": 100, "strokeWidth": 2, "opacity": 1}, "encoding": {
    "x": {"field": "k", "type": "quantitative"}, "y": {"field": "v", "type": "quantitative"},
    "color": {"field": "m", "type": "nominal", "scale": {"domain": ["Adjacent-Encoder","Adjacent-Encoder-X","AE","DAE","CAE","VAE","KSAE","KATE","ProdLDA","RTM","PLANE","NRTM","VGAE"], "range": ["#7F7F7F","#9C7A2A","#5B9BD5","#ED7D31","#FFC000","#7030A0","#A5A5A5","#70AD47","#264478","#255E91","#9E480E","#43682B","#000000"]}, "legend": {"title": null}},
    "stroke": {"field": "m", "type": "nominal", "scale": {"domain": ["Adjacent-Encoder","Adjacent-Encoder-X","AE","DAE","CAE","VAE","KSAE","KATE","ProdLDA","RTM","PLANE","NRTM","VGAE"], "range": ["#7F7F7F","#9C7A2A","#5B9BD5","#ED7D31","#FFC000","#7030A0","#A5A5A5","#70AD47","#264478","#255E91","#9E480E","#43682B","#000000"]}, "legend": {"title": null}},
    "shape": {"field": "m", "type": "nominal", "scale": {"domain": ["Adjacent-Encoder","Adjacent-Encoder-X","AE","DAE","CAE","VAE","KSAE","KATE","ProdLDA","RTM","PLANE","NRTM","VGAE"], "range": ["M-0.75,-0.18H0.75V0.18H-0.75Z","M0,-0.95L0.95,0L0,0.95L-0.95,0Z","M0,-0.7L0.7,0L0,0.7L-0.7,0Z","M-0.75,-0.75H0.75V0.75H-0.75Z","M-0.75,-0.75L0.75,0.75M0.75,-0.75L-0.75,0.75M0,-0.9V0.9","M-0.75,-0.75L0.75,0.75M0.75,-0.75L-0.75,0.75M0,-0.9V0.9","M0,-0.85L0.9,0.7H-0.9Z","M-0.85,0A0.85,0.85 0 1,0 0.85,0A0.85,0.85 0 1,0 -0.85,0Z","M-0.9,-0.9H0.9V0.9H-0.9Z","M-0.9,0H0.9M0,-0.9V0.9","M-0.55,-0.12H0.55V0.12H-0.55Z","M0,-0.85L0.9,0.7H-0.9Z","M-0.8,-0.8L0.8,0.8M0.8,-0.8L-0.8,0.8"]}, "legend": {"title": null}}}}
 ]},
{"width": 327, "height": 280, "data": {"name": "f"}, "title": {"text": "(f) Inductive on HA"},
 "layer": [
  {"mark": {"type": "rule", "color": "#595959", "strokeWidth": 1}, "encoding": {"x": {"datum": 10, "type": "quantitative"}, "y": {"datum": 0.3, "type": "quantitative"}, "y2": {"datum": 0.9}}},
  {"mark": {"type": "rule", "color": "#595959", "strokeWidth": 1}, "encoding": {"y": {"datum": 0.3, "type": "quantitative"}, "x": {"datum": 10, "type": "quantitative"}, "x2": {"datum": 50}}},
  {"mark": {"type": "line", "strokeWidth": 2.2}, "encoding": {
    "x": {"field": "k", "type": "quantitative", "scale": {"domain": [-4.775, 54.144], "nice": false, "zero": false}, "axis": {"values": [10,20,30,40,50], "tickCount": 12, "labelOverlap": false, "title": "Number of neighbors K"}},
    "y": {"field": "v", "type": "quantitative", "scale": {"domain": [0.0995, 0.94372], "nice": false, "zero": false}, "axis": {"values": [0.3,0.4,0.5,0.6,0.7,0.8,0.9], "tickCount": 12, "format": ".1f", "labelOverlap": false, "title": "Accuracy"}},
    "color": {"field": "m", "type": "nominal", "scale": {"domain": ["Adjacent-Encoder","Adjacent-Encoder-X","AE","DAE","CAE","VAE","KSAE","KATE","ProdLDA","RTM","PLANE","NRTM","VGAE"], "range": ["#7F7F7F","#9C7A2A","#5B9BD5","#ED7D31","#FFC000","#7030A0","#A5A5A5","#70AD47","#264478","#255E91","#9E480E","#43682B","#000000"]}, "legend": {"title": null}}}},
  {"mark": {"type": "point", "filled": true, "size": 100, "strokeWidth": 2, "opacity": 1}, "encoding": {
    "x": {"field": "k", "type": "quantitative"}, "y": {"field": "v", "type": "quantitative"},
    "color": {"field": "m", "type": "nominal", "scale": {"domain": ["Adjacent-Encoder","Adjacent-Encoder-X","AE","DAE","CAE","VAE","KSAE","KATE","ProdLDA","RTM","PLANE","NRTM","VGAE"], "range": ["#7F7F7F","#9C7A2A","#5B9BD5","#ED7D31","#FFC000","#7030A0","#A5A5A5","#70AD47","#264478","#255E91","#9E480E","#43682B","#000000"]}, "legend": {"title": null}},
    "stroke": {"field": "m", "type": "nominal", "scale": {"domain": ["Adjacent-Encoder","Adjacent-Encoder-X","AE","DAE","CAE","VAE","KSAE","KATE","ProdLDA","RTM","PLANE","NRTM","VGAE"], "range": ["#7F7F7F","#9C7A2A","#5B9BD5","#ED7D31","#FFC000","#7030A0","#A5A5A5","#70AD47","#264478","#255E91","#9E480E","#43682B","#000000"]}, "legend": {"title": null}},
    "shape": {"field": "m", "type": "nominal", "scale": {"domain": ["Adjacent-Encoder","Adjacent-Encoder-X","AE","DAE","CAE","VAE","KSAE","KATE","ProdLDA","RTM","PLANE","NRTM","VGAE"], "range": ["M-0.75,-0.18H0.75V0.18H-0.75Z","M0,-0.95L0.95,0L0,0.95L-0.95,0Z","M0,-0.7L0.7,0L0,0.7L-0.7,0Z","M-0.75,-0.75H0.75V0.75H-0.75Z","M-0.75,-0.75L0.75,0.75M0.75,-0.75L-0.75,0.75M0,-0.9V0.9","M-0.75,-0.75L0.75,0.75M0.75,-0.75L-0.75,0.75M0,-0.9V0.9","M0,-0.85L0.9,0.7H-0.9Z","M-0.85,0A0.85,0.85 0 1,0 0.85,0A0.85,0.85 0 1,0 -0.85,0Z","M-0.9,-0.9H0.9V0.9H-0.9Z","M-0.9,0H0.9M0,-0.9V0.9","M-0.55,-0.12H0.55V0.12H-0.55Z","M0,-0.85L0.9,0.7H-0.9Z","M-0.8,-0.8L0.8,0.8M0.8,-0.8L-0.8,0.8"]}, "legend": {"title": null}}}}
 ]},
{"width": 327, "height": 280, "data": {"name": "g"}, "title": {"text": "(g) Inductive on ML"},
 "layer": [
  {"mark": {"type": "rule", "color": "#595959", "strokeWidth": 1}, "encoding": {"x": {"datum": 10, "type": "quantitative"}, "y": {"datum": 0.1, "type": "quantitative"}, "y2": {"datum": 0.9}}},
  {"mark": {"type": "rule", "color": "#595959", "strokeWidth": 1}, "encoding": {"y": {"datum": 0.1, "type": "quantitative"}, "x": {"datum": 10, "type": "quantitative"}, "x2": {"datum": 50}}},
  {"mark": {"type": "line", "strokeWidth": 2.2}, "encoding": {
    "x": {"field": "k", "type": "quantitative", "scale": {"domain": [-4.775, 54.144], "nice": false, "zero": false}, "axis": {"values": [10,20,30,40,50], "tickCount": 12, "labelOverlap": false, "title": "Number of neighbors K"}},
    "y": {"field": "v", "type": "quantitative", "scale": {"domain": [-0.16734, 0.95829], "nice": false, "zero": false}, "axis": {"values": [0.1,0.2,0.3,0.4,0.5,0.6,0.7,0.8,0.9], "tickCount": 12, "format": ".1f", "labelOverlap": false, "title": "Accuracy"}},
    "color": {"field": "m", "type": "nominal", "scale": {"domain": ["Adjacent-Encoder","Adjacent-Encoder-X","AE","DAE","CAE","VAE","KSAE","KATE","ProdLDA","RTM","PLANE","NRTM","VGAE"], "range": ["#7F7F7F","#9C7A2A","#5B9BD5","#ED7D31","#FFC000","#7030A0","#A5A5A5","#70AD47","#264478","#255E91","#9E480E","#43682B","#000000"]}, "legend": {"title": null}}}},
  {"mark": {"type": "point", "filled": true, "size": 100, "strokeWidth": 2, "opacity": 1}, "encoding": {
    "x": {"field": "k", "type": "quantitative"}, "y": {"field": "v", "type": "quantitative"},
    "color": {"field": "m", "type": "nominal", "scale": {"domain": ["Adjacent-Encoder","Adjacent-Encoder-X","AE","DAE","CAE","VAE","KSAE","KATE","ProdLDA","RTM","PLANE","NRTM","VGAE"], "range": ["#7F7F7F","#9C7A2A","#5B9BD5","#ED7D31","#FFC000","#7030A0","#A5A5A5","#70AD47","#264478","#255E91","#9E480E","#43682B","#000000"]}, "legend": {"title": null}},
    "stroke": {"field": "m", "type": "nominal", "scale": {"domain": ["Adjacent-Encoder","Adjacent-Encoder-X","AE","DAE","CAE","VAE","KSAE","KATE","ProdLDA","RTM","PLANE","NRTM","VGAE"], "range": ["#7F7F7F","#9C7A2A","#5B9BD5","#ED7D31","#FFC000","#7030A0","#A5A5A5","#70AD47","#264478","#255E91","#9E480E","#43682B","#000000"]}, "legend": {"title": null}},
    "shape": {"field": "m", "type": "nominal", "scale": {"domain": ["Adjacent-Encoder","Adjacent-Encoder-X","AE","DAE","CAE","VAE","KSAE","KATE","ProdLDA","RTM","PLANE","NRTM","VGAE"], "range": ["M-0.75,-0.18H0.75V0.18H-0.75Z","M0,-0.95L0.95,0L0,0.95L-0.95,0Z","M0,-0.7L0.7,0L0,0.7L-0.7,0Z","M-0.75,-0.75H0.75V0.75H-0.75Z","M-0.75,-0.75L0.75,0.75M0.75,-0.75L-0.75,0.75M0,-0.9V0.9","M-0.75,-0.75L0.75,0.75M0.75,-0.75L-0.75,0.75M0,-0.9V0.9","M0,-0.85L0.9,0.7H-0.9Z","M-0.85,0A0.85,0.85 0 1,0 0.85,0A0.85,0.85 0 1,0 -0.85,0Z","M-0.9,-0.9H0.9V0.9H-0.9Z","M-0.9,0H0.9M0,-0.9V0.9","M-0.55,-0.12H0.55V0.12H-0.55Z","M0,-0.85L0.9,0.7H-0.9Z","M-0.8,-0.8L0.8,0.8M0.8,-0.8L-0.8,0.8"]}, "legend": {"title": null}}}}
 ]},
{"width": 327, "height": 280, "data": {"name": "h"}, "title": {"text": "(h) Inductive on PL"},
 "layer": [
  {"mark": {"type": "rule", "color": "#595959", "strokeWidth": 1}, "encoding": {"x": {"datum": 10, "type": "quantitative"}, "y": {"datum": 0.1, "type": "quantitative"}, "y2": {"datum": 0.8}}},
  {"mark": {"type": "rule", "color": "#595959", "strokeWidth": 1}, "encoding": {"y": {"datum": 0.1, "type": "quantitative"}, "x": {"datum": 10, "type": "quantitative"}, "x2": {"datum": 50}}},
  {"mark": {"type": "line", "strokeWidth": 2.2}, "encoding": {
    "x": {"field": "k", "type": "quantitative", "scale": {"domain": [-4.775, 54.144], "nice": false, "zero": false}, "axis": {"values": [10,20,30,40,50], "tickCount": 12, "labelOverlap": false, "title": "Number of neighbors K"}},
    "y": {"field": "v", "type": "quantitative", "scale": {"domain": [-0.13392, 0.85101], "nice": false, "zero": false}, "axis": {"values": [0.1,0.2,0.3,0.4,0.5,0.6,0.7,0.8], "tickCount": 12, "format": ".1f", "labelOverlap": false, "title": "Accuracy"}},
    "color": {"field": "m", "type": "nominal", "scale": {"domain": ["Adjacent-Encoder","Adjacent-Encoder-X","AE","DAE","CAE","VAE","KSAE","KATE","ProdLDA","RTM","PLANE","NRTM","VGAE"], "range": ["#7F7F7F","#9C7A2A","#5B9BD5","#ED7D31","#FFC000","#7030A0","#A5A5A5","#70AD47","#264478","#255E91","#9E480E","#43682B","#000000"]}, "legend": {"title": null}}}},
  {"mark": {"type": "point", "filled": true, "size": 100, "strokeWidth": 2, "opacity": 1}, "encoding": {
    "x": {"field": "k", "type": "quantitative"}, "y": {"field": "v", "type": "quantitative"},
    "color": {"field": "m", "type": "nominal", "scale": {"domain": ["Adjacent-Encoder","Adjacent-Encoder-X","AE","DAE","CAE","VAE","KSAE","KATE","ProdLDA","RTM","PLANE","NRTM","VGAE"], "range": ["#7F7F7F","#9C7A2A","#5B9BD5","#ED7D31","#FFC000","#7030A0","#A5A5A5","#70AD47","#264478","#255E91","#9E480E","#43682B","#000000"]}, "legend": {"title": null}},
    "stroke": {"field": "m", "type": "nominal", "scale": {"domain": ["Adjacent-Encoder","Adjacent-Encoder-X","AE","DAE","CAE","VAE","KSAE","KATE","ProdLDA","RTM","PLANE","NRTM","VGAE"], "range": ["#7F7F7F","#9C7A2A","#5B9BD5","#ED7D31","#FFC000","#7030A0","#A5A5A5","#70AD47","#264478","#255E91","#9E480E","#43682B","#000000"]}, "legend": {"title": null}},
    "shape": {"field": "m", "type": "nominal", "scale": {"domain": ["Adjacent-Encoder","Adjacent-Encoder-X","AE","DAE","CAE","VAE","KSAE","KATE","ProdLDA","RTM","PLANE","NRTM","VGAE"], "range": ["M-0.75,-0.18H0.75V0.18H-0.75Z","M0,-0.95L0.95,0L0,0.95L-0.95,0Z","M0,-0.7L0.7,0L0,0.7L-0.7,0Z","M-0.75,-0.75H0.75V0.75H-0.75Z","M-0.75,-0.75L0.75,0.75M0.75,-0.75L-0.75,0.75M0,-0.9V0.9","M-0.75,-0.75L0.75,0.75M0.75,-0.75L-0.75,0.75M0,-0.9V0.9","M0,-0.85L0.9,0.7H-0.9Z","M-0.85,0A0.85,0.85 0 1,0 0.85,0A0.85,0.85 0 1,0 -0.85,0Z","M-0.9,-0.9H0.9V0.9H-0.9Z","M-0.9,0H0.9M0,-0.9V0.9","M-0.55,-0.12H0.55V0.12H-0.55Z","M0,-0.85L0.9,0.7H-0.9Z","M-0.8,-0.8L0.8,0.8M0.8,-0.8L-0.8,0.8"]}, "legend": {"title": null}}}}
 ]}
],
"config": {
 "font": "Lato",
 "view": {"stroke": "#595959", "strokeWidth": 1},
 "axis": {"grid": false, "domain": false, "labelFont": "Lato", "labelFontSize": 20, "labelColor": "#404040", "titleFont": "Lato", "titleFontSize": 20, "titleFontWeight": "normal", "titleColor": "#404040", "tickColor": "#595959", "labelFlush": false, "labelOverlap": false, "labelBound": false, "tickCount": 12},
 "axisX": {"offset": -66.5, "tickSize": 6, "labelPadding": 12, "titleX": 193, "titleY": 54.5, "titleBaseline": "middle"},
 "axisY": {"offset": -82, "tickSize": 7, "labelPadding": 11, "titleX": -62, "titleY": 114, "titleBaseline": "middle"},
 "legend": {"orient": "none", "legendX": 1, "legendY": -47, "direction": "horizontal", "columns": 13, "labelFont": "Lato", "labelFontSize": 15, "labelColor": "#000000", "symbolSize": 100, "symbolStrokeWidth": 2, "strokeColor": "#595959", "padding": 8, "columnPadding": 34, "labelOffset": 5, "labelLimit": 300},
 "title": {"font": "Liberation Serif", "fontSize": 25, "fontWeight": "normal", "orient": "bottom", "anchor": "middle", "offset": 9, "color": "#000000"}
}
}
